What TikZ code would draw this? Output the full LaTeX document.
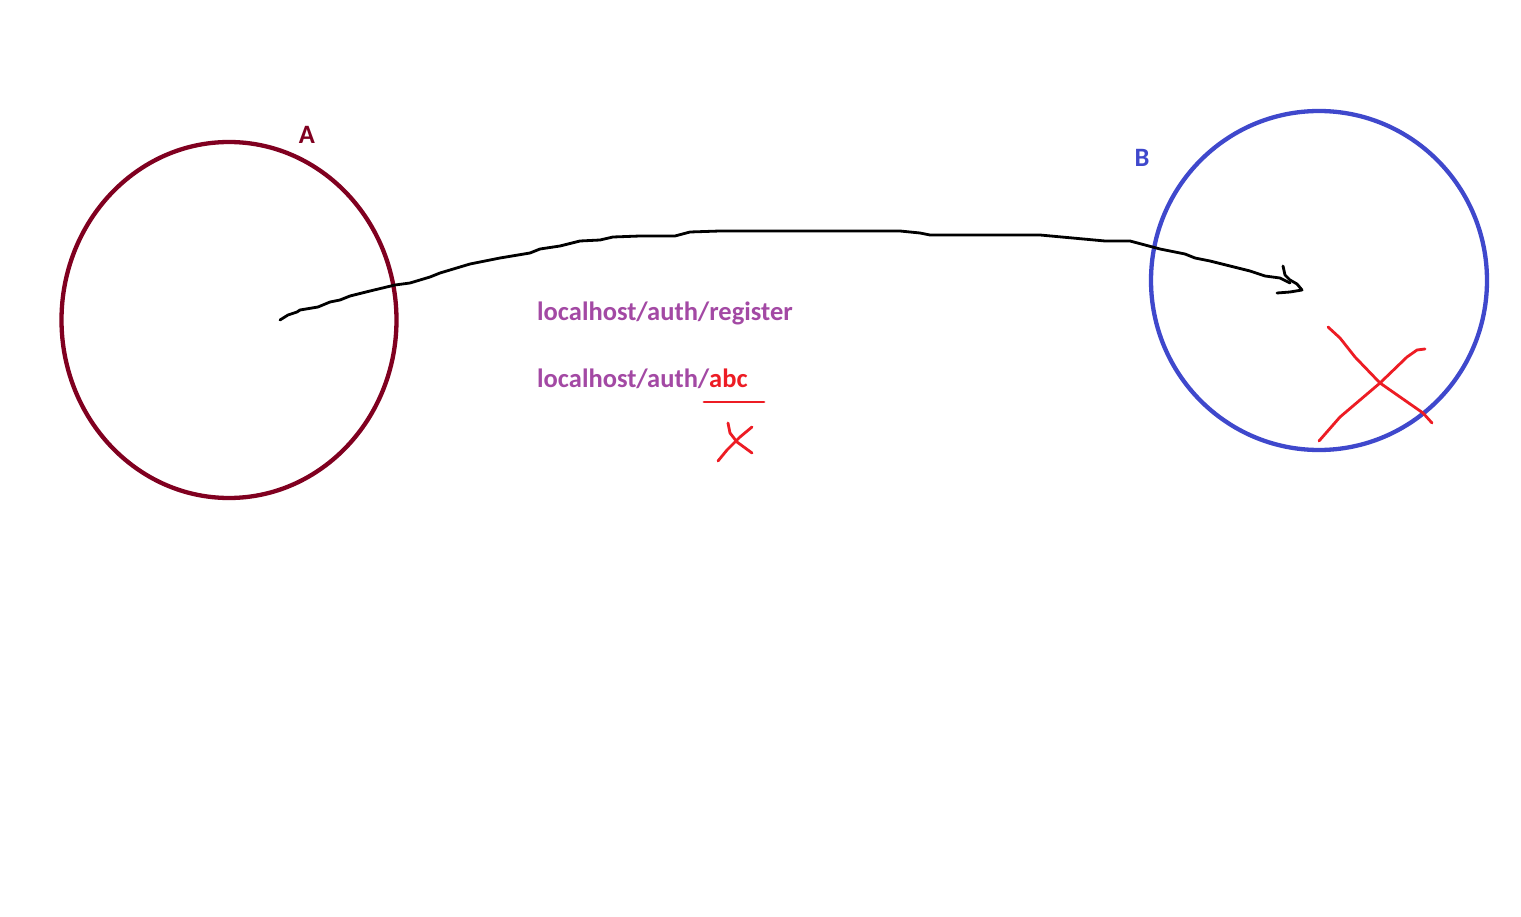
\documentclass[tikz,border=0pt]{standalone}
\usepackage{fontspec}
\setmainfont{Carlito}
\usetikzlibrary{shapes.geometric}
\definecolor{aRed}{HTML}{800020}
\definecolor{bBlue}{HTML}{3F48CC}
\definecolor{urlPurple}{HTML}{A349A4}
\definecolor{penRed}{HTML}{ED1C24}
\tikzset{
  circA/.style={draw=aRed,line width=4.3pt},
  circB/.style={draw=bBlue,line width=4.3pt},
  pen/.style={line width=2.8pt,line cap=round,line join=round},
  redpen/.style={pen,draw=penRed},
  url/.style={font=\bfseries\fontsize{26.5}{30}\selectfont,text=urlPurple,inner sep=0pt,anchor=base west},
  lbl/.style={font=\bfseries\fontsize{26.5}{30}\selectfont,inner sep=0pt},
}
\begin{document}
\begin{tikzpicture}[x=1pt,y=-1pt]
\useasboundingbox (0,0) rectangle (1521,917);
\fill[white] (0,0) rectangle (1521,917);
% circles
\node[circA,ellipse,minimum width=335pt,minimum height=356pt,inner sep=0pt] (A) at (229,320) {};
\node[circB,ellipse,minimum width=336pt,minimum height=339pt,inner sep=0pt] (B) at (1319,280.5) {};
\node[lbl,text=aRed] (labA) at (307,135) {A};
\node[lbl,text=bBlue] (labB) at (1142,158) {B};
% connector
\coordinate (start) at (280,320);
\coordinate (tip) at (1290,283);
\draw[pen] (start) -- (288,315) -- (297,312) -- (300,310) -- (318,307) -- (330,302) -- (340,300) -- (350,296) -- (370,291) -- (395,285) -- (410,283) -- (430,277) -- (440,273) -- (470,264) -- (500,258) -- (530,253) -- (540,249) -- (560,246) -- (580,241) -- (600,240) -- (613,237) -- (640,236) -- (675,236) -- (690,232) -- (720,231) -- (900,231) -- (920,233) -- (930,235) -- (1040,235) -- (1105,241) -- (1130,241) -- (1160,249) -- (1185,254) -- (1195,258) -- (1210,261) -- (1230,266) -- (1250,271) -- (1265,276) -- (1280,278) -- (tip);
\draw[pen] (1283,266) -- (1285,275) -- (1290,280) -- (1297,284) -- (1302,290) -- (1290,292) -- (1277,293);
% texts
\node[url] (u1) at (537,321) {localhost/auth/register};
\node[url] (u2) at (537,387) {localhost/auth/\textcolor{penRed}{abc}};
% underline and small cross
\coordinate (ul1) at (704,402);
\coordinate (ul2) at (764,402);
\draw[redpen] (ul1) -- (ul2);
\draw[redpen] (728,423) -- (730,433) -- (737,442) -- (752,453);
\draw[redpen] (718,461) -- (727,450) -- (740,437) -- (752,427);
% big cross
\draw[redpen] (1328,327) -- (1340,338) -- (1355,357) -- (1380,383) -- (1423,413) -- (1432,423);
\draw[redpen] (1319,441) -- (1340,417) -- (1380,383) -- (1407,357) -- (1417,350) -- (1425,349);
\end{tikzpicture}
\end{document}
